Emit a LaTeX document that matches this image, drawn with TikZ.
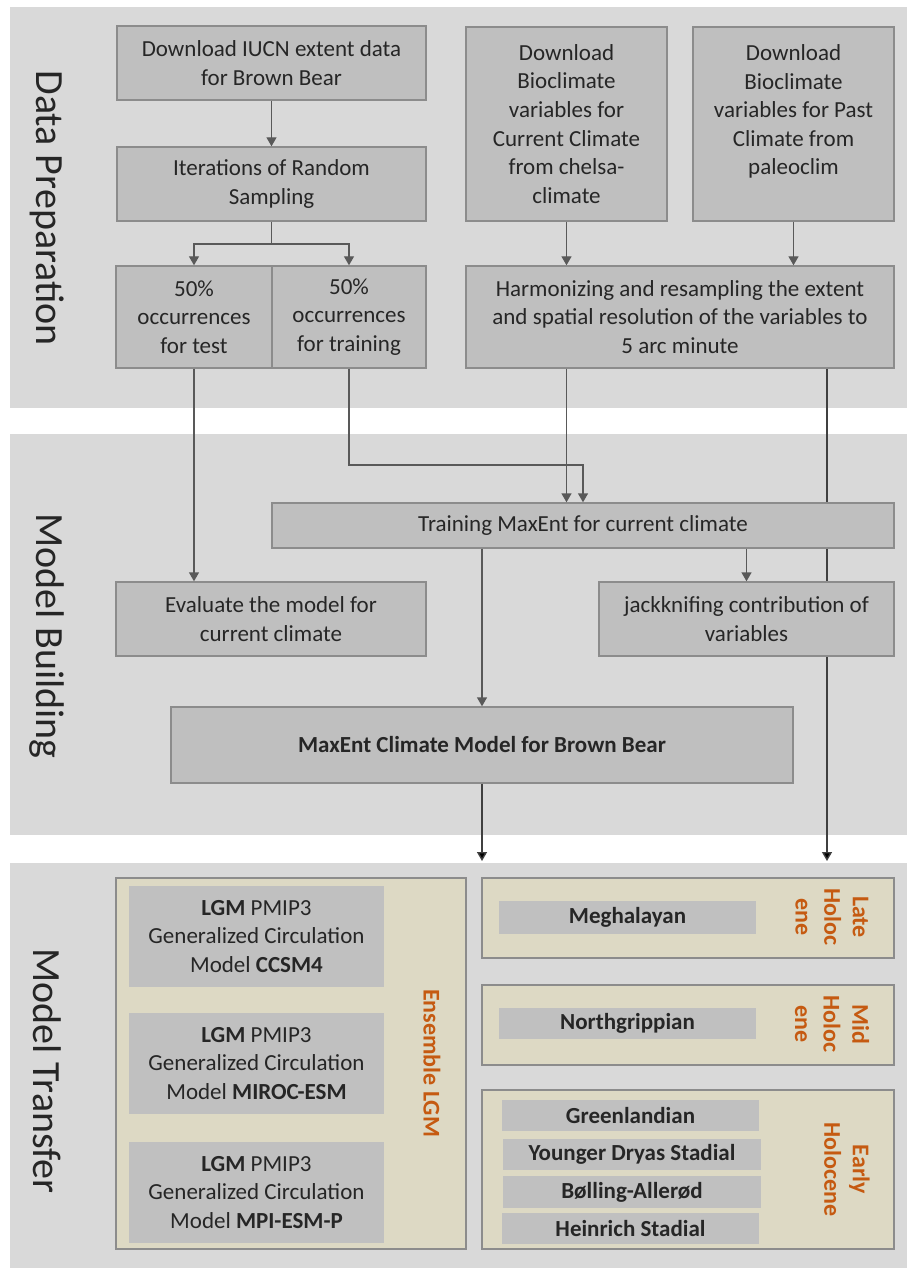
\documentclass[tikz,border=0pt]{standalone}
\usepackage{fontspec}
\setmainfont{Carlito}
\usetikzlibrary{arrows.meta}
\pgfdeclarelayer{panels}
\pgfdeclarelayer{wires}
\pgfsetlayers{panels,wires,main}

\begin{document}
\begin{tikzpicture}[x=0.5pt, y=-0.5pt,
    every node/.style={font=\fontsize{11.5}{14.3}\selectfont, text=textgray},
    stepbox/.style={rectangle, draw=boxline, fill=boxfill, line width=0.7pt, align=center, inner sep=2pt},
    framebox/.style={rectangle, draw=boxline, fill=framefill, line width=0.7pt, inner sep=0pt},
    gcmbox/.style={rectangle, fill=itemfill, align=center, inner sep=1pt, minimum width=127.5pt, minimum height=50.5pt},
    eraitem/.style={rectangle, fill=itemfill, font=\fontsize{11.5}{14.3}\selectfont\bfseries, align=center, inner sep=1pt, minimum width=128.5pt, minimum height=15.5pt},
    phase/.style={rotate=-90, font=\fontsize{20}{24}\selectfont, text=black!85},
    epoch/.style={rotate=-90, align=center, font=\fontsize{12}{14.3}\selectfont\bfseries, text=epochcolor},
    arr/.style={draw=wiregray, line width=0.7pt, -{Triangle[width=5pt,length=4.5pt]}},
    arrk/.style={draw=black!75, line width=0.7pt, -{Triangle[width=5pt,length=4.5pt,fill=black]}}]
    % Define colors
    \definecolor{textgray}{RGB}{38, 38, 38}
    \definecolor{panelfill}{RGB}{217, 217, 217}
    \definecolor{boxfill}{RGB}{191, 191, 191}
    \definecolor{boxline}{RGB}{140, 140, 140}
    \definecolor{itemfill}{RGB}{192, 192, 192}
    \definecolor{framefill}{RGB}{221, 217, 196}
    \definecolor{wiregray}{RGB}{89, 89, 89}
    \definecolor{epochcolor}{RGB}{197, 90, 17}

    \useasboundingbox (0,0) rectangle (909,1272);

    % Phase panels
    \begin{pgfonlayer}{panels}
        \fill[panelfill] (10,7) rectangle (907,408);
        \fill[panelfill] (10,434) rectangle (907,835);
        \fill[panelfill] (10,863) rectangle (907,1268);
    \end{pgfonlayer}
    \node[phase] (prepLabel) at (47,208) {Data Preparation};
    \node[phase] (buildLabel) at (47,636) {Model Building};
    \node[phase] (transferLabel) at (47,1071) {Model Transfer};

    % Data preparation
    \node[stepbox, minimum width=154.5pt, minimum height=37pt] (iucn) at (271.5,63) {Download IUCN extent data\\for Brown Bear};
    \node[stepbox, minimum width=154.5pt, minimum height=37pt] (iter) at (271.5,184) {Iterations of Random\\Sampling};
    \node[stepbox, minimum width=78pt, minimum height=51pt] (test) at (194,317) {50\%\\occurrences\\for test};
    \node[stepbox, minimum width=77pt, minimum height=51pt] (train) at (349,317) {50\%\\occurrences\\for training};
    \node[stepbox, minimum width=100.5pt, minimum height=97pt] (bioCur) at (566.5,124) {Download\\Bioclimate\\variables for\\Current Climate\\from chelsa-\\climate};
    \node[stepbox, minimum width=100.5pt, minimum height=97pt] (bioPast) at (793.5,124) {Download\\Bioclimate\\variables for Past\\Climate from\\paleoclim\\~};
    \node[stepbox, minimum width=214pt, minimum height=51pt] (harm) at (680,317) {Harmonizing and resampling the extent\\and spatial resolution of the variables to\\5 arc minute};

    % Model building
    \node[stepbox, minimum width=311pt, minimum height=22.5pt] (trainMax) at (583,525.5) {Training MaxEnt for current climate};
    \node[stepbox, minimum width=155pt, minimum height=37pt] (eval) at (271,619) {Evaluate the model for\\current climate};
    \node[stepbox, minimum width=147.5pt, minimum height=37pt] (jack) at (746.5,619) {jackknifing contribution of\\variables};
    \node[stepbox, minimum width=311pt, minimum height=38pt, font=\fontsize{11.5}{14.3}\selectfont\bfseries] (model) at (482,745) {MaxEnt Climate Model for Brown Bear};

    % Model transfer: LGM ensemble
    \node[framebox, minimum width=175pt, minimum height=185.5pt] (ensemble) at (291,1063.5) {};
    \node[gcmbox] (ccsm) at (256.5,936.5) {\textbf{LGM} PMIP3\\Generalized Circulation\\Model \textbf{CCSM4}};
    \node[gcmbox] (miroc) at (256.5,1063.5) {\textbf{LGM} PMIP3\\Generalized Circulation\\Model \textbf{MIROC-ESM}};
    \node[gcmbox] (mpi) at (256.5,1192.5) {\textbf{LGM} PMIP3\\Generalized Circulation\\Model \textbf{MPI-ESM-P}};
    \node[epoch] (ensembleLabel) at (432,1063) {Ensemble LGM};

    % Model transfer: Holocene stages
    \node[framebox, minimum width=206pt, minimum height=40pt] (late) at (688,918) {};
    \node[eraitem, minimum height=16.5pt] (megh) at (627.5,917.5) {Meghalayan};
    \node[epoch] (lateLabel) at (832,917) {Late\\Holoc\\ene};

    \node[framebox, minimum width=206pt, minimum height=40pt] (mid) at (688,1025) {};
    \node[eraitem] (north) at (627.5,1023.5) {Northgrippian};
    \node[epoch] (midLabel) at (832,1024) {Mid\\Holoc\\ene};

    \node[framebox, minimum width=206pt, minimum height=79.5pt] (early) at (688,1169.5) {};
    \node[eraitem] (green) at (630.5,1115.5) {Greenlandian};
    \node[eraitem, minimum width=129pt] (dryas) at (632,1154.5) {Younger Dryas Stadial};
    \node[eraitem, minimum width=129pt, minimum height=16pt] (bolling) at (632,1192) {Bølling-Allerød};
    \node[eraitem] (heinrich) at (630.5,1228) {Heinrich Stadial};
    \node[epoch] (earlyLabel) at (847,1169.5) {Early\\Holocene};

    % Helper points
    \coordinate (split) at (271.5,244);
    \coordinate (trainBend) at (349,465);
    \coordinate (modelOut) at (482,861);
    \coordinate (pastOut) at (827,861);

    % Arrows showing data flow
    \draw[arr] (iucn) -- (iter);
    \draw[arr] (iter.south) -- (split) -| (test.north);
    \draw[arr] (split) -| (train.north);
    \draw[arr] (bioCur.south) -- (bioCur.south |- harm.north);
    \draw[arr] (bioPast.south) -- (bioPast.south |- harm.north);
    \draw[arr] (test.south) -- (test.south |- eval.north);
    \draw[arr] (train.south) -- (trainBend) -| (trainMax.north);
    \draw[arr] (harm.south -| bioCur.south) -- (trainMax.north -| bioCur.south);
    \draw[arr] (trainMax.south -| model.north) -- (model.north);
    \draw[arr] (trainMax.south -| jack.north) -- (jack.north);
    \draw[arrk] (model.south) -- (modelOut);
    \begin{pgfonlayer}{wires}
        \draw[arrk] (harm.south -| pastOut) -- (pastOut);
    \end{pgfonlayer}
\end{tikzpicture}
\end{document}
